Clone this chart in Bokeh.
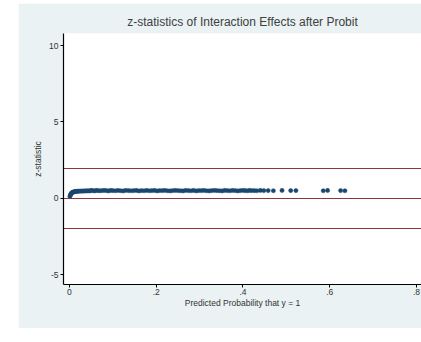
from bokeh.plotting import figure
from bokeh.models import Range1d, FixedTicker
from bokeh.embed import file_html
from bokeh.resources import INLINE

# Predicted probability (x) and z-statistic of the interaction effect (y)
prob = [
    0.001, 0.002, 0.003, 0.004, 0.005, 0.006, 0.008, 0.010, 0.012, 0.014,
    0.016, 0.018, 0.020, 0.023, 0.026, 0.029, 0.032, 0.035, 0.038, 0.041,
    0.044, 0.047, 0.050, 0.054, 0.058, 0.062, 0.066, 0.070, 0.075, 0.080,
    0.085, 0.090, 0.095, 0.100, 0.106, 0.112, 0.118, 0.124, 0.130, 0.136,
    0.142, 0.148, 0.154, 0.160, 0.166, 0.172, 0.178, 0.184, 0.190, 0.196,
    0.202, 0.208, 0.214, 0.220, 0.226, 0.232, 0.238, 0.244, 0.250, 0.256,
    0.262, 0.268, 0.274, 0.280, 0.286, 0.292, 0.298, 0.304, 0.310, 0.316,
    0.322, 0.328, 0.334, 0.340, 0.346, 0.352, 0.358, 0.364, 0.370, 0.376,
    0.382, 0.388, 0.394, 0.400, 0.405, 0.410, 0.415, 0.420, 0.426, 0.432,
    0.440, 0.448, 0.458, 0.470, 0.490, 0.510, 0.522, 0.585, 0.595, 0.625,
    0.635,
]
zstat = [
    0.12, 0.20, 0.26, 0.31, 0.34, 0.37, 0.40, 0.42, 0.43, 0.44,
    0.45, 0.45, 0.46, 0.46, 0.47, 0.47, 0.47, 0.48, 0.48, 0.48,
    0.49, 0.48, 0.51, 0.50, 0.48, 0.51, 0.50, 0.49, 0.50, 0.51,
    0.50, 0.48, 0.51, 0.50, 0.49, 0.51, 0.49, 0.48, 0.51, 0.50,
    0.49, 0.50, 0.51, 0.48, 0.50, 0.49, 0.51, 0.49, 0.50, 0.51,
    0.48, 0.50, 0.50, 0.51, 0.49, 0.48, 0.50, 0.51, 0.50, 0.49,
    0.48, 0.51, 0.50, 0.49, 0.51, 0.48, 0.50, 0.50, 0.51, 0.49,
    0.48, 0.50, 0.51, 0.50, 0.49, 0.48, 0.51, 0.50, 0.49, 0.51,
    0.50, 0.48, 0.50, 0.51, 0.50, 0.49, 0.51, 0.50, 0.50, 0.49,
    0.51, 0.50, 0.50, 0.49, 0.51, 0.50, 0.50, 0.49, 0.51, 0.50,
    0.49,
]

# Critical values for a two-sided 5% test, plus zero
ref_lines = [1.96, 0.0, -1.96]

x_ticks = [0, 0.2, 0.4, 0.6, 0.8]
x_tick_labels = ["0", ".2", ".4", ".6", ".8"]
y_ticks = [-5, 0, 5, 10]
y_tick_labels = ["-5", "0", "5", "10"]

FONT = "Liberation Sans"
BG = "#eaf2f3"
NAVY = "#1a476f"
MAROON = "#90353b"

p = figure(
    width=403, height=325,
    output_backend="svg", toolbar_location=None,
    x_range=Range1d(-0.0138, 0.8115),
    y_range=Range1d(-5.65, 10.79),
    min_border_left=45, min_border_right=0,
    min_border_top=30, min_border_bottom=44,
    background_fill_color="white",
    border_fill_color=BG,
    outline_line_color=None,
)
p.margin = (3, 0, 14, 18)

p.title.text = "z-statistics of Interaction Effects after Probit"
p.title.align = "center"
p.title.text_font = FONT
p.title.text_font_size = "12px"
p.title.text_font_style = "normal"
p.title.text_color = "#404040"

p.xgrid.visible = False
p.ygrid.visible = False

p.hspan(y=ref_lines, line_color=MAROON, line_width=1)
p.scatter(prob, zstat, size=4.2, marker="circle",
          fill_color=NAVY, line_color=NAVY, line_width=0.5)

for ax in (p.xaxis[0], p.yaxis[0]):
    ax.axis_line_color = "black"
    ax.axis_line_width = 1.2
    ax.major_tick_line_color = "black"
    ax.major_tick_in = 0
    ax.major_tick_out = 3
    ax.minor_tick_line_color = None
    ax.major_label_standoff = 2
    ax.major_label_text_font = FONT
    ax.major_label_text_font_size = "8.5px"
    ax.major_label_text_color = "#333333"
    ax.axis_label_text_font = FONT
    ax.axis_label_text_font_size = "8.5px"
    ax.axis_label_text_font_style = "normal"
    ax.axis_label_text_color = "#333333"

p.xaxis.ticker = FixedTicker(ticks=x_ticks)
p.xaxis.major_label_overrides = dict(zip(x_ticks, x_tick_labels))
p.xaxis.major_label_standoff = 1
p.xaxis.axis_label = "Predicted Probability that y = 1"
p.xaxis.axis_label_standoff = 0

p.yaxis.ticker = FixedTicker(ticks=y_ticks)
p.yaxis.major_label_overrides = dict(zip(y_ticks, y_tick_labels))
p.yaxis.major_label_orientation = "horizontal"
p.yaxis.axis_label = "z-statistic"
p.yaxis.axis_label_standoff = 3

open("out.html", "w").write(file_html(p, INLINE))
